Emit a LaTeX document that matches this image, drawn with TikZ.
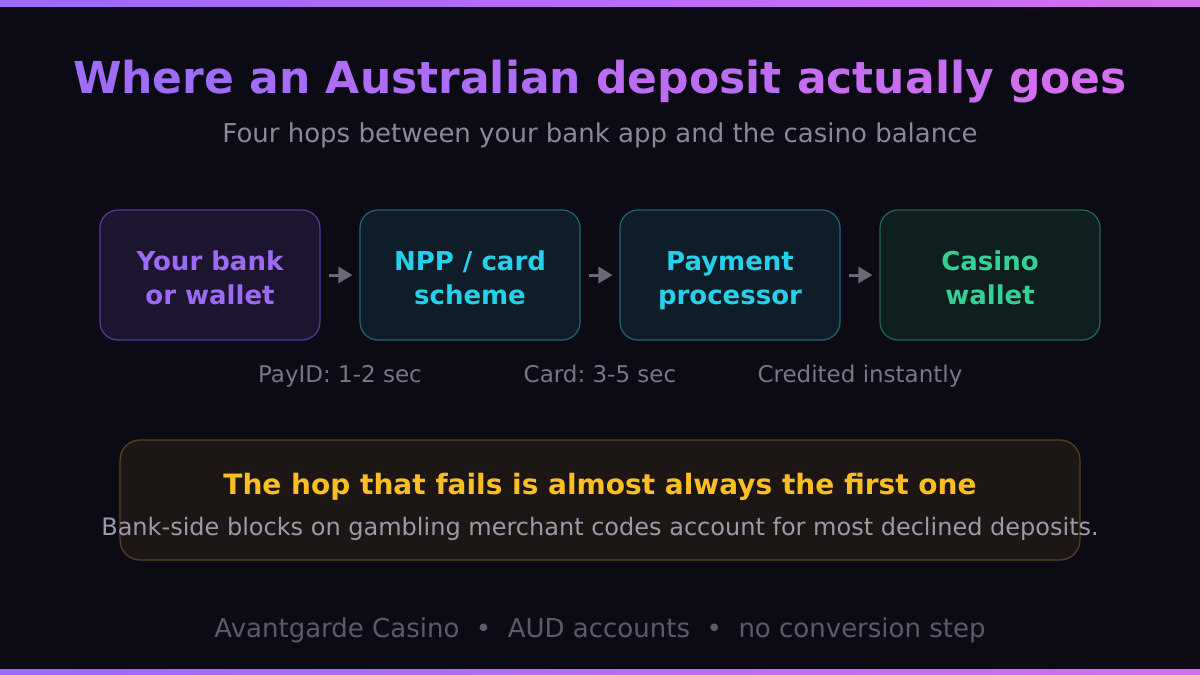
\documentclass[tikz,border=0pt]{standalone}
\usepackage{fontspec}
\setmainfont{DejaVu Sans}
\usetikzlibrary{arrows.meta}
\definecolor{bg}{HTML}{0C0B15}
\definecolor{barL}{HTML}{9A6AF8}
\definecolor{barR}{HTML}{D66EF2}
\definecolor{tA}{HTML}{9F6CF8}
\definecolor{tB}{HTML}{D46EF0}
\definecolor{subgray}{HTML}{8A8896}
\definecolor{lblgray}{HTML}{777684}
\definecolor{footgray}{HTML}{5C5A69}
\definecolor{arrowgray}{HTML}{6A6976}
\definecolor{pfill}{HTML}{1D1530}
\definecolor{pdraw}{HTML}{563C96}
\definecolor{ptext}{HTML}{9D6AF6}
\definecolor{cfill}{HTML}{0F1D28}
\definecolor{cdraw}{HTML}{1E6676}
\definecolor{ctext}{HTML}{25D0EA}
\definecolor{gfill}{HTML}{0F1E1E}
\definecolor{gdraw}{HTML}{1F6A52}
\definecolor{gtext}{HTML}{34D095}
\definecolor{afill}{HTML}{1C1715}
\definecolor{adraw}{HTML}{5A4520}
\definecolor{atext}{HTML}{FBBF24}
\definecolor{descgray}{HTML}{9D99A8}
\tikzset{
  hopbox/.style={draw, line width=1.2pt, rounded corners=18pt, minimum width=220pt, minimum height=130pt, inner sep=0pt},
  hoptext/.style={anchor=base, inner sep=0pt, font=\fontsize{26}{34}\selectfont\bfseries},
  hoparrow/.style={draw=arrowgray, line width=3pt, -{Triangle[length=14pt,width=16pt]}},
  lbl/.style={anchor=base, text=lblgray, font=\fontsize{23}{28}\selectfont},
}
\begin{document}
\frenchspacing
\begin{tikzpicture}[x=1pt,y=-1pt]
\useasboundingbox (0,0) rectangle (1200,675);
\fill[bg] (0,0) rectangle (1200,675);
\shade[left color=barL, right color=barR] (0,0) rectangle (1200,6);
\shade[left color=barL, right color=barR] (0,669) rectangle (1200,675);
% title
\node[anchor=base, inner sep=0pt] (title) at (600,93) {\fontsize{44}{52}\selectfont\bfseries
  \textcolor{tA}{Where} \textcolor{tA!88!tB}{an} \textcolor{tA!72!tB}{Australian} \textcolor{tA!48!tB}{deposit} \textcolor{tA!24!tB}{actually} \textcolor{tB}{goes}};
\node[anchor=base, inner sep=0pt, text=subgray, font=\fontsize{26}{30}\selectfont] (subtitle) at (600,142) {Four hops between your bank app and the casino balance};
% boxes
\node[hopbox, fill=pfill, draw=pdraw] (b1) at (210,275) {};
\node[hopbox, fill=cfill, draw=cdraw] (b2) at (470,275) {};
\node[hopbox, fill=cfill, draw=cdraw] (b3) at (730,275) {};
\node[hopbox, fill=gfill, draw=gdraw] (b4) at (990,275) {};
\node[hoptext, text=ptext] (b1a) at (210,270) {Your bank};
\node[hoptext, text=ptext] (b1b) at (210,304) {or wallet};
\node[hoptext, text=ctext] (b2a) at (470,270) {NPP / card};
\node[hoptext, text=ctext] (b2b) at (470,304) {scheme};
\node[hoptext, text=ctext] (b3a) at (730,270) {Payment};
\node[hoptext, text=ctext] (b3b) at (730,304) {processor};
\node[hoptext, text=gtext] (b4a) at (990,270) {Casino};
\node[hoptext, text=gtext] (b4b) at (990,304) {wallet};
\draw[hoparrow] ([xshift=8pt]b1.east) -- ([xshift=-7pt]b2.west);
\draw[hoparrow] ([xshift=8pt]b2.east) -- ([xshift=-7pt]b3.west);
\draw[hoparrow] ([xshift=8pt]b3.east) -- ([xshift=-7pt]b4.west);
% labels
\node[lbl] (l1) at (340,382) {PayID: 1-2 sec};
\node[lbl] (l2) at (600,382) {Card: 3-5 sec};
\node[lbl] (l3) at (860,382) {Credited instantly};
% callout
\node[draw=adraw, fill=afill, line width=1.2pt, rounded corners=20pt, minimum width=960pt, minimum height=120pt] (callout) at (600,500) {};
\node[anchor=base, inner sep=0pt, text=atext, font=\fontsize{28}{32}\selectfont\bfseries] (ctitle) at (600,494) {The hop that fails is almost always the first one};
\node[anchor=base, inner sep=0pt, text=descgray, font=\fontsize{24}{28}\selectfont] (cdesc) at (600,535) {Bank-side blocks on gambling merchant codes account for most declined deposits.};
% footer
\node[anchor=base, inner sep=0pt, text=footgray, font=\fontsize{26}{30}\selectfont] (footer) at (600,637) {Avantgarde Casino\ \ •\ \ AUD accounts\ \ •\ \ no conversion step};
\end{tikzpicture}
\end{document}
